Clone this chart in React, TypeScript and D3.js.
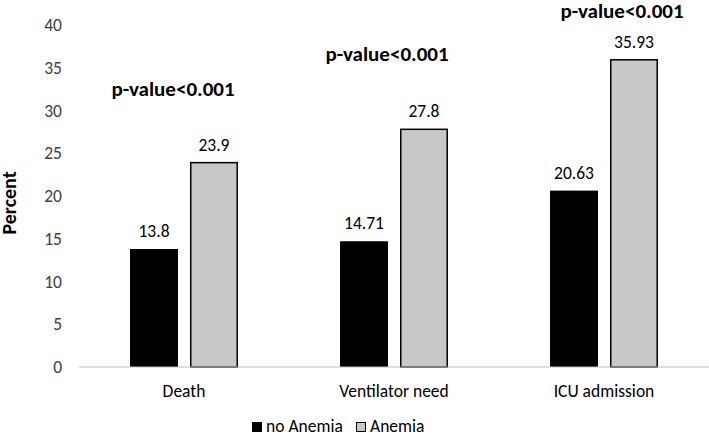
import React from "react";
import * as d3 from "d3";

const categories = ["Death", "Ventilator need", "ICU admission"];
const seriesNames = ["no Anemia", "Anemia"];
const noAnemia = [13.8, 14.71, 20.63];
const anemia = [23.9, 27.8, 35.93];
const valueLabels = [["13.8", "14.71", "20.63"], ["23.9", "27.8", "35.93"]];
const yTicks = [0, 5, 10, 15, 20, 25, 30, 35, 40];
const pLabels = ["p-value<0.001", "p-value<0.001", "p-value<0.001"];
const pLabelLevels = [32.6, 36.7, 41.7];
const pLabelShift = [-11, -7, 18];

const W = 709;
const H = 437;
const FONT = "Carlito, Calibri, Lato, 'Open Sans', sans-serif";
const fills = ["#000000", "#c8c8c8"];
const FS = 17.5;

export default function App() {
  const left = 79, right = 709, top = 25, bottom = 367;
  const x = d3.scaleBand<string>().domain(categories).range([left, right]).paddingInner(0.486).paddingOuter(0.243);
  const xi = d3.scaleBand<string>().domain(seriesNames).range([0, x.bandwidth()]).paddingInner(0.2).paddingOuter(0);
  const y = d3.scaleLinear().domain([0, 40]).range([bottom, top]);
  const series = [noAnemia, anemia];

  return (
    <svg width={W} height={H} style={{ position: "absolute", left: 0, top: 0, background: "#fff" }} fontFamily={FONT}>
      {yTicks.map((t) => (
        <text key={t} x={62} y={y(t)} dy="0.35em" textAnchor="end" fontSize={FS} fill="#404040">{t}</text>
      ))}
      <text transform={`translate(16,203) rotate(-90)`} textAnchor="middle" fontSize={20} fontWeight="bold" fill="#000">Percent</text>
      {series.map((vals, si) =>
        vals.map((v, ci) => {
          const bx = (x(categories[ci]) as number) + (xi(seriesNames[si]) as number);
          const bw = xi.bandwidth();
          return (
            <g key={`${si}-${ci}`}>
              <rect x={si === 1 ? bx + 0.75 : bx} y={y(v)} width={si === 1 ? bw - 1.5 : bw} height={y(0) - y(v)} fill={fills[si]} stroke={si === 1 ? "#000" : "none"} strokeWidth={1.5} />
              <text x={bx + bw / 2} y={y(v) - 12} textAnchor="middle" fontSize={FS} fill="#000">{valueLabels[si][ci]}</text>
            </g>
          );
        })
      )}
      <line x1={left} x2={right} y1={bottom} y2={bottom} stroke="#bfbfbf" strokeWidth={1.2} />
      {categories.map((c) => (
        <text key={c} x={(x(c) as number) + x.bandwidth() / 2} y={397} textAnchor="middle" fontSize={FS} fill="#000">{c}</text>
      ))}
      {pLabels.map((p, i) => (
        <text key={i} x={(x(categories[i]) as number) + x.bandwidth() / 2 + pLabelShift[i]} y={y(pLabelLevels[i])} dy="0.35em" textAnchor="middle" fontSize={21} fontWeight={600} fill="#000">{p}</text>
      ))}
      <g>
        <rect x={252} y={422} width={10} height={10} fill={fills[0]} />
        <text x={266} y={432} fontSize={FS} fill="#000">{seriesNames[0]}</text>
        <rect x={356.5} y={422.5} width={9} height={9} fill={fills[1]} stroke="#000" strokeWidth={1} />
        <text x={370} y={432} fontSize={FS} fill="#000">{seriesNames[1]}</text>
      </g>
    </svg>
  );
}
